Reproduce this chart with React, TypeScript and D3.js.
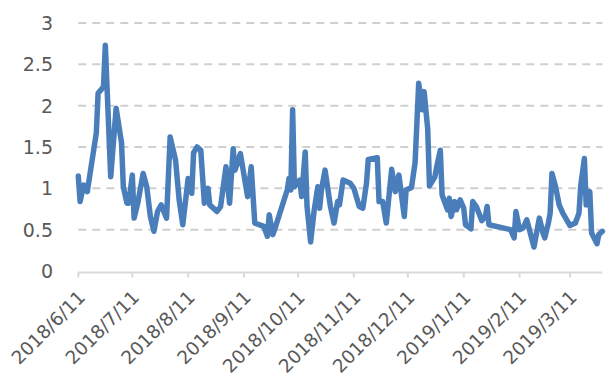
import React from "react";
import * as d3 from "d3";

const dates: string[] = [
  "2018/6/11","2018/6/12","2018/6/14","2018/6/16","2018/6/21","2018/6/22","2018/6/25","2018/6/26","2018/6/29",
  "2018/7/2","2018/7/5","2018/7/6","2018/7/8","2018/7/9","2018/7/11","2018/7/12","2018/7/14","2018/7/17",
  "2018/7/19","2018/7/21","2018/7/23","2018/7/25","2018/7/27","2018/7/30","2018/8/1","2018/8/4","2018/8/6",
  "2018/8/8","2018/8/11","2018/8/13","2018/8/14","2018/8/16","2018/8/18","2018/8/20","2018/8/22","2018/8/23",
  "2018/8/27","2018/8/29","2018/9/1","2018/9/3","2018/9/5","2018/9/6","2018/9/9","2018/9/13","2018/9/15",
  "2018/9/17","2018/9/22","2018/9/24","2018/9/25","2018/9/27","2018/9/28","2018/10/5","2018/10/6","2018/10/7",
  "2018/10/8","2018/10/9","2018/10/12","2018/10/13","2018/10/15","2018/10/16","2018/10/18","2018/10/20",
  "2018/10/22","2018/10/23","2018/10/24","2018/10/26","2018/10/29","2018/10/31","2018/11/2","2018/11/3",
  "2018/11/5","2018/11/9","2018/11/11","2018/11/14","2018/11/16","2018/11/18","2018/11/19","2018/11/24",
  "2018/11/25","2018/11/27","2018/11/29","2018/12/2","2018/12/4","2018/12/6","2018/12/9","2018/12/10",
  "2018/12/13","2018/12/15","2018/12/17","2018/12/19","2018/12/20","2018/12/22","2018/12/23","2018/12/26",
  "2018/12/27","2018/12/29","2018/12/30","2019/1/2","2019/1/3","2019/1/4","2019/1/6","2019/1/7","2019/1/9",
  "2019/1/11","2019/1/12","2019/1/15","2019/1/16","2019/1/18","2019/1/21","2019/1/23","2019/1/24","2019/1/25",
  "2019/2/6","2019/2/8","2019/2/9","2019/2/11","2019/2/13","2019/2/15","2019/2/16","2019/2/19","2019/2/22",
  "2019/2/24","2019/2/25","2019/2/27","2019/2/28","2019/3/1","2019/3/3","2019/3/5","2019/3/7","2019/3/11",
  "2019/3/14","2019/3/16","2019/3/17","2019/3/19","2019/3/20","2019/3/22","2019/3/23","2019/3/26","2019/3/27",
  "2019/3/29"
];

const values: number[] = [
  1.15,0.84,1.04,0.96,1.67,2.15,2.23,2.73,1.14,
  1.97,1.55,1.02,0.82,0.82,1.16,0.64,0.82,1.18,
  1.02,0.66,0.48,0.72,0.80,0.64,1.62,1.34,0.86,
  0.56,1.12,0.94,1.43,1.50,1.46,0.82,1.00,0.80,
  0.72,0.78,1.26,0.82,1.48,1.22,1.42,0.90,1.26,
  0.58,0.54,0.42,0.68,0.44,0.50,0.98,1.12,0.98,
  1.95,1.02,1.10,0.90,1.44,0.78,0.35,0.74,
  1.02,0.76,0.98,1.22,0.78,0.58,0.84,0.80,
  1.10,1.06,1.00,0.78,0.76,1.06,1.35,1.37,
  0.84,0.84,0.58,1.23,0.96,1.16,0.66,0.98,
  1.01,1.31,2.27,1.95,2.17,1.72,1.03,1.14,
  1.26,1.46,0.92,0.74,0.88,0.66,0.84,0.74,0.86,
  0.76,0.56,0.51,0.84,0.78,0.61,0.66,0.78,0.56,
  0.50,0.40,0.72,0.50,0.52,0.62,0.54,0.29,0.64,
  0.46,0.40,0.58,0.70,1.18,1.02,0.80,0.70,0.55,
  0.58,0.70,1.04,1.36,0.80,0.96,0.46,0.33,0.44,
  0.48
];

const xTickLabels: string[] = [
  "2018/6/11","2018/7/11","2018/8/11","2018/9/11","2018/10/11",
  "2018/11/11","2018/12/11","2019/1/11","2019/2/11","2019/3/11"
];

const yTicks: number[] = [0, 0.5, 1, 1.5, 2, 2.5, 3];

const parse = (s: string) => {
  const [y, m, d] = s.split("/").map(Number);
  return new Date(y, m - 1, d);
};

export default function App() {
  const W = 615, H = 381;
  const left = 78.3, right = 602.4, top = 23, bottom = 271;
  const x = d3.scaleTime()
    .domain([parse(dates[0]), parse(dates[dates.length - 1])])
    .range([left, right]);
  const y = d3.scaleLinear().domain([0, 3]).range([bottom, top]);
  const pts = dates.map((d, i) => [x(parse(d)), y(values[i])] as [number, number]);
  const line = d3.line().curve(d3.curveLinear)(pts) || "";
  const axisY = bottom + 1.5;
  const font = "'DejaVu Sans', sans-serif";

  return (
    <svg width={W} height={H} style={{ position: "absolute", left: 0, top: 0, background: "#fff" }}>
      {yTicks.filter(t => t > 0).map(t => (
        <line key={t} x1={left} x2={right} y1={y(t)} y2={y(t)}
          stroke="#cfcfcf" strokeWidth={2} strokeDasharray="8,6" />
      ))}
      <line x1={left} x2={right} y1={axisY} y2={axisY} stroke="#d9d9d9" strokeWidth={2} />
      {xTickLabels.map(t => {
        const px = x(parse(t));
        return <line key={t} x1={px} x2={px} y1={axisY} y2={axisY + 5} stroke="#d9d9d9" strokeWidth={2} />;
      })}
      {yTicks.map(t => (
        <text key={t} x={53} y={y(t)} dy="0.36em" textAnchor="end"
          fontFamily={font} fontSize={19} fill="#595959">{String(t)}</text>
      ))}
      {xTickLabels.map(t => {
        const px = x(parse(t)) + 8;
        const py = axisY + 26;
        return (
          <text key={t} x={px} y={py} textAnchor="end" transform={`rotate(-45 ${px} ${py})`}
            fontFamily={font} fontSize={18.5} fill="#595959">{t}</text>
        );
      })}
      <path d={line} fill="none" stroke="#4a7ebb" strokeWidth={5.5} strokeLinejoin="round" strokeLinecap="round" />
    </svg>
  );
}
